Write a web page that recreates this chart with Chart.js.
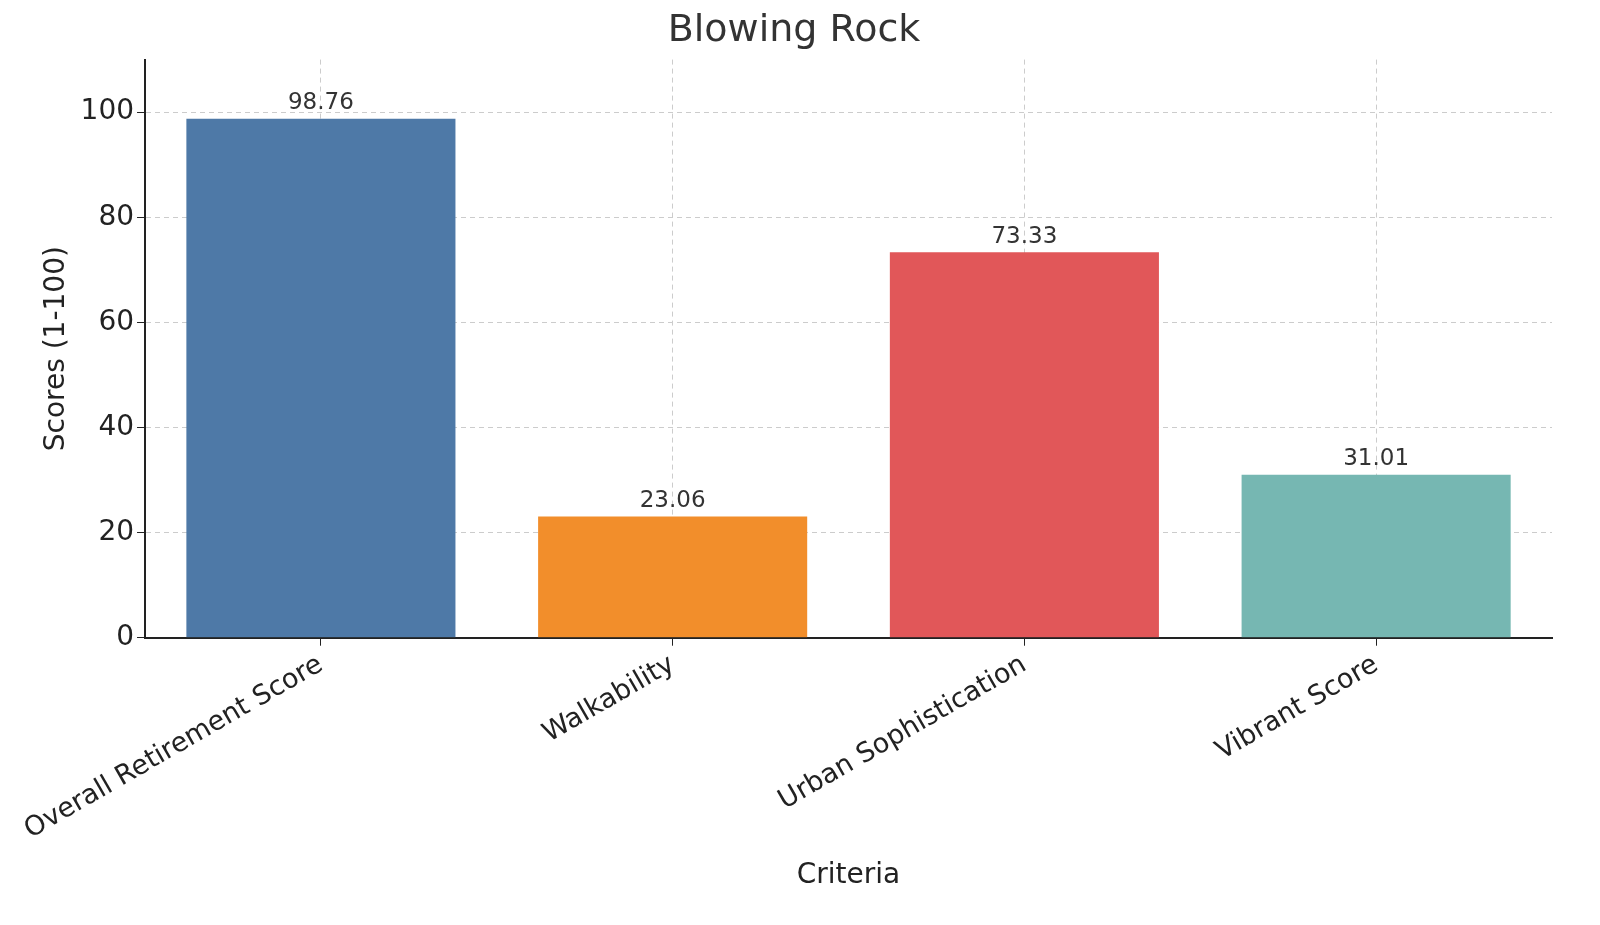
<!DOCTYPE html>
<html><head><meta charset="utf-8">
<script src="https://cdn.jsdelivr.net/npm/chart.js@4"></script>
<style>html,body{margin:0;background:#fff}</style>
</head><body>
<canvas id="c" width="1600" height="925"></canvas>
<script>
const categories = ['Overall Retirement Score', 'Walkability', 'Urban Sophistication', 'Vibrant Score'];
const scores = [98.76, 23.06, 73.33, 31.01];
const colors = ['#4e79a7', '#f28e2b', '#e15759', '#76b7b2'];
const yTicks = [0, 20, 40, 60, 80, 100];

const valueLabels = {
    id: 'valueLabels',
    afterDatasetsDraw(chart) {
        const ctx = chart.ctx;
        ctx.save();
        ctx.font = '23px "DejaVu Sans"';
        ctx.fillStyle = '#333';
        ctx.textAlign = 'center';
        ctx.textBaseline = 'bottom';
        chart.getDatasetMeta(0).data.forEach((bar, i) => {
            ctx.fillText(scores[i].toFixed(2), bar.x, bar.y - 4);
        });
        ctx.restore();
    }
};

new Chart(document.getElementById('c'), {
    type: 'bar',
    data: {
        labels: categories,
        datasets: [{ data: scores, backgroundColor: colors, barPercentage: 0.765, categoryPercentage: 1 }]
    },
    options: {
        responsive: false, animation: false,
        layout: { padding: { left: 36, right: 48, top: 8, bottom: 28 } },
        plugins: {
            legend: { display: false },
            tooltip: { enabled: false },
            title: { display: true, text: 'Blowing Rock', color: '#333', font: { family: 'DejaVu Sans', size: 38, weight: 'normal' }, padding: { top: 0, bottom: 6 } }
        },
        scales: {
            x: {
                grid: { offset: false, color: '#ccc', tickColor: '#222', tickLength: 8 },
                border: { color: '#222', width: 2, dash: [5, 4] },
                ticks: { color: '#222', font: { family: 'DejaVu Sans', size: 27 }, maxRotation: 30, minRotation: 30 },
                title: { display: true, text: 'Criteria', color: '#222', font: { family: 'DejaVu Sans', size: 28 }, padding: { top: 10 } }
            },
            y: {
                min: 0, max: 110,
                afterBuildTicks: axis => { axis.ticks = yTicks.map(v => ({ value: v })); },
                grid: { color: '#ccc', tickColor: '#222', tickLength: 8 },
                border: { color: '#222', width: 2, dash: [5, 4] },
                ticks: { color: '#222', font: { family: 'DejaVu Sans', size: 28 } },
                title: { display: true, text: 'Scores (1-100)', color: '#222', font: { family: 'DejaVu Sans', size: 28 } }
            }
        }
    },
    plugins: [valueLabels]
});
</script>
</body></html>
